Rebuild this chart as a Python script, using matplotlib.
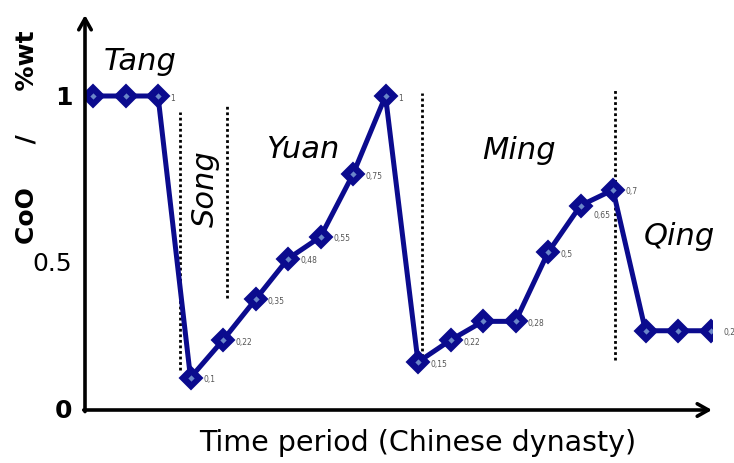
import matplotlib
matplotlib.use("Agg")
import matplotlib.pyplot as plt
from matplotlib.transforms import ScaledTranslation
import numpy as np

# ---- data ----
values = [1, 1, 1, 0.1, 0.22, 0.35, 0.48, 0.55, 0.75, 1,
          0.15, 0.22, 0.28, 0.28, 0.5, 0.65, 0.7, 0.25, 0.25, 0.25]
point_labels = ["", "", "1", "0,1", "0,22", "0,35", "0,48", "0,55", "0,75", "1",
                "0,15", "0,22", "", "0,28", "0,5", "0,65", "0,7", "", "", "0,25"]
ytick_vals = [0, 0.5, 1]
ytick_labels = ["0", "0.5", "1"]
dynasties = ["Tang", "Song", "Yuan", "Ming", "Qing"]
xlabel = "Time period (Chinese dynasty)"
ylabel = "CoO     /     %wt"

# ---- figure ----
W, H = 734, 463
fig = plt.figure(figsize=(W / 100, H / 100), dpi=100)
ax = fig.add_axes([85 / W, (H - 410) / H, (712 - 85) / W, (410 - 15) / H])

x = np.arange(len(values))
step = 32.5
x0 = 93
ax.set_xlim((85 - x0) / step, (712 - x0) / step)
ax.set_ylim((409 - 410) / 313, (409 - 15) / 313)

navy = "#0b0b8e"
ax.plot(x, values, color=navy, lw=3.6, marker="D", ms=11,
        markerfacecolor=navy, markeredgecolor=navy, markeredgewidth=1.5,
        solid_joinstyle="round", zorder=3)
ax.plot(x, values, ls="none", marker="D", ms=3.2, color="#6a86c8",
        markeredgewidth=0, zorder=4)

for xi, v, lab in zip(x, values, point_labels):
    if not lab:
        continue
    dy = -7 if lab == "0,65" else -1.5
    ax.annotate(lab, (xi, v), xytext=(9, dy), textcoords="offset points",
                fontsize=5.5, color="#555555", va="center", ha="left", zorder=4)

# dotted separators
seps = [(2.68, 0.125, 0.949), (4.12, 0.355, 0.968),
        (10.12, 0.15, 1.01), (16.06, 0.157, 1.02)]
for sx, y0, y1 in seps:
    ax.vlines(sx, y0, y1, colors="black", linestyles=(0, (1, 1)), lw=2.0, zorder=2)

# dynasty labels
dyn_pos = [(1.45, 1.11, 0), (3.45, 0.705, 90), (6.45, 0.83, 0),
           (13.1, 0.825, 0), (18.05, 0.55, 0)]
for name, (dx, dy, rot) in zip(dynasties, dyn_pos):
    ax.text(dx, dy, name, fontsize=22, style="italic", ha="center", va="center",
            rotation=rot, color="black")

# axes as arrows
for s in ax.spines.values():
    s.set_visible(False)
ax.annotate("", xy=(1.0, 0), xytext=(-0.002, 0), xycoords="axes fraction",
            arrowprops=dict(arrowstyle="->,head_length=0.8,head_width=0.45",
                            lw=2.6, color="black", shrinkA=0, shrinkB=0))
ax.annotate("", xy=(0, 1.0), xytext=(0, -0.004), xycoords="axes fraction",
            arrowprops=dict(arrowstyle="->,head_length=0.8,head_width=0.45",
                            lw=2.6, color="black", shrinkA=0, shrinkB=0))

ax.set_xticks([])
ax.set_yticks(ytick_vals)
ax.set_yticklabels(ytick_labels, fontsize=18)
ax.tick_params(axis="y", length=0, pad=9)
for t, w in zip(ax.get_yticklabels(), ["bold", "normal", "bold"]):
    t.set_fontweight(w)
mid = ax.get_yticklabels()[1]
mid.set_transform(mid.get_transform() + ScaledTranslation(0, -0.09, fig.dpi_scale_trans))

fig.text(418 / W, 1 - 443 / H, xlabel, fontsize=20.5, ha="center", va="center")
fig.text(27 / W, 1 - 137 / H, ylabel, fontsize=18, fontweight="bold",
         rotation=90, ha="center", va="center")

fig.savefig("out.png", dpi=100)
